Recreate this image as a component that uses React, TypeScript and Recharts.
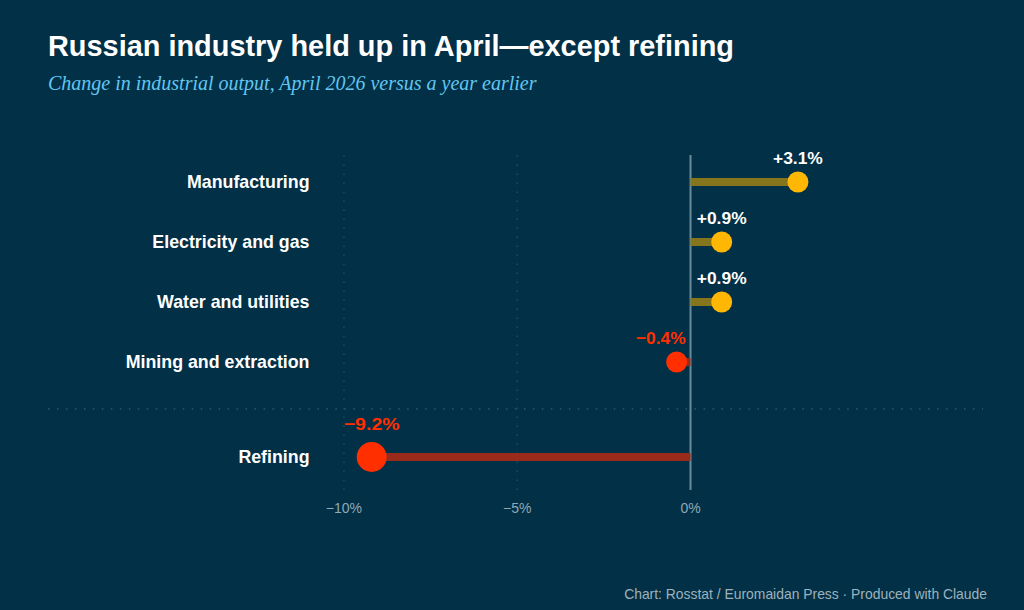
import { ScatterChart, Scatter, XAxis, YAxis, ReferenceLine } from "recharts"

const categories = ["Manufacturing", "Electricity and gas", "Water and utilities", "Mining and extraction", "Refining"]
const changes = [3.1, 0.9, 0.9, -0.4, -9.2]
const valueLabels = ["+3.1%", "+0.9%", "+0.9%", "\u22120.4%", "\u22129.2%"]
// row slots on the y scale, refining sits lower below the separator
const rows = [0, 1, 2, 3, 4.583]
const separatorRow = 3.783
const yDomain = [-0.45, 5.133]
const xTicks = [-10, -5, 0]
const xTickLabels = ["\u221210%", "\u22125%", "0%"]
const gridTicks = [-10, -5]

const BG = "#023047"
const AMBER = "#ffb703"
const RED = "#ff2f00"
const SANS = "'Liberation Sans', Arial, sans-serif"

const points = categories.map((name, i) => ({
  name,
  x: changes[i],
  y: rows[i],
  label: valueLabels[i],
}))

function Dot(props: any) {
  const { cx, cy, payload } = props
  const negative = payload.x < 0
  const big = payload.x < -5
  const r = big ? 15 : 10.5
  const nearZero = negative && !big
  return (
    <g>
      <circle cx={cx} cy={cy} r={r} fill={negative ? RED : AMBER} />
      <text
        x={nearZero ? cx + 9 : cx}
        y={cy - (big ? 27 : 18)}
        textAnchor={nearZero ? "end" : "middle"}
        fontFamily={SANS}
        fontWeight={700}
        fontSize={17.4}
        textLength={big ? 56 : undefined}
        lengthAdjust="spacingAndGlyphs"
        fill={negative ? RED : "#ffffff"}
      >
        {payload.label}
      </text>
    </g>
  )
}

function RowTick(props: any) {
  const { y, payload } = props
  const i = rows.indexOf(payload.value)
  return (
    <text x={309.5} y={y + 6} textAnchor="end" fontFamily={SANS} fontWeight={700} fontSize={17.8} fill="#ffffff">
      {categories[i]}
    </text>
  )
}

export default function App() {
  return (
    <div style={{ position: "absolute", left: 0, top: 0, width: 1024, height: 610, background: BG, overflow: "hidden" }}>
      <div style={{ position: "absolute", left: 48, top: 30, fontFamily: SANS, fontWeight: 700, fontSize: 28.9, color: "#fff", whiteSpace: "nowrap" }}>
        Russian industry held up in April—except refining
      </div>
      <div style={{ position: "absolute", left: 48, top: 72, fontFamily: "'Liberation Serif', serif", fontStyle: "italic", fontSize: 20, color: "#62c6f0", whiteSpace: "nowrap" }}>
        Change in industrial output, April 2026 versus a year earlier
      </div>
      <ScatterChart width={1024} height={610} margin={{ top: 155, right: 41, bottom: 90, left: 47 }}>
        <XAxis
          type="number"
          dataKey="x"
          domain={[-18.54, 8.44]}
          ticks={xTicks}
          tickFormatter={(v: number) => xTickLabels[xTicks.indexOf(v)]}
          axisLine={false}
          tickLine={false}
          height={30}
          tickMargin={7}
          tick={{ fill: "#8fa9b5", fontSize: 14, fontFamily: SANS }}
        />
        <YAxis
          type="number"
          dataKey="y"
          domain={yDomain}
          reversed
          ticks={rows}
          width={1}
          axisLine={false}
          tickLine={false}
          tick={RowTick}
          interval={0}
        />
        {gridTicks.map((t) => (
          <ReferenceLine key={t} x={t} stroke="#1f4d60" strokeWidth={1.5} strokeDasharray="1.5 7.5" />
        ))}
        <ReferenceLine y={separatorRow} stroke="#2b5a6c" strokeWidth={1.5} strokeDasharray="1.5 7.48" />
        <ReferenceLine x={0} stroke="#6c8b98" strokeWidth={2} />
        {points.map((p) => (
          <ReferenceLine
            key={p.name}
            segment={[{ x: 0, y: p.y }, { x: p.x, y: p.y }]}
            stroke={p.x < 0 ? "#9a2b1a" : "#85751c"}
            strokeWidth={8}
          />
        ))}
        <Scatter data={points} isAnimationActive={false} shape={Dot} />
      </ScatterChart>
      <div style={{ position: "absolute", right: 37, top: 586, fontFamily: SANS, fontSize: 13.9, color: "#9db2bc", whiteSpace: "nowrap" }}>
        Chart: Rosstat / Euromaidan Press · Produced with Claude
      </div>
    </div>
  )
}
